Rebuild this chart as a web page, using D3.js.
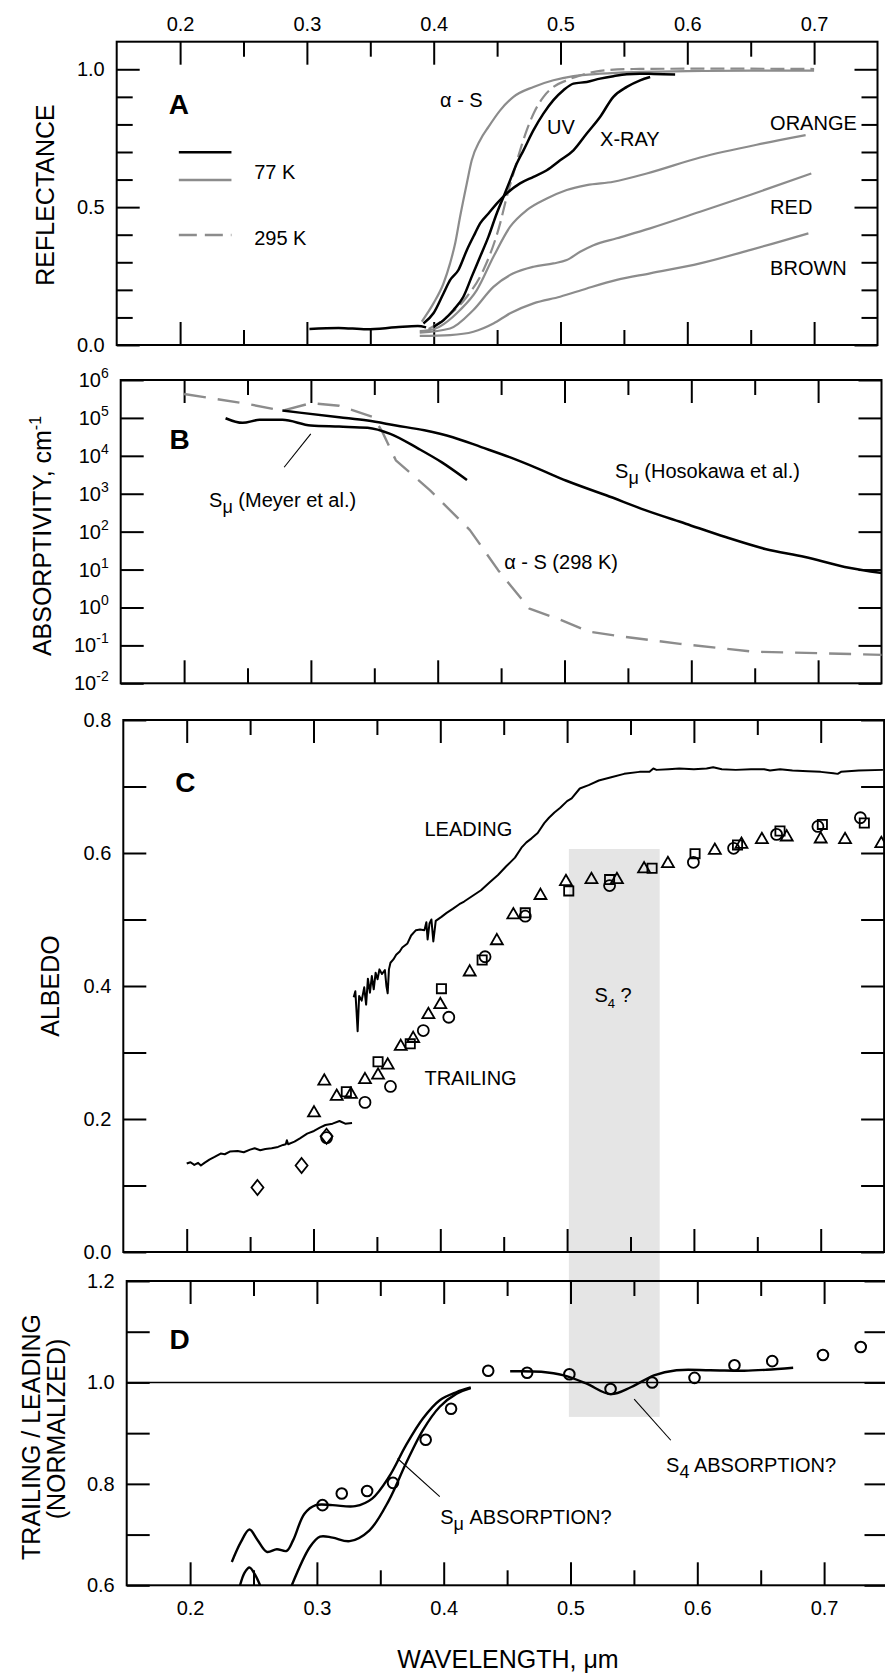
<!DOCTYPE html>
<html>
<head>
<meta charset="utf-8">
<script src="https://cdn.jsdelivr.net/npm/d3@7"></script>
<style>
  body { margin: 0; background: #fff; }
</style>
</head>
<body>
<div id="chart"></div>
<script>
const W = 885, H = 1673;
const FONT = "'Liberation Sans', Arial, Helvetica, sans-serif";
const GRAY = "#8c8c8c";

// ---- data: wavelength (um) vs value ----
const wlMajor = [0.2, 0.3, 0.4, 0.5, 0.6, 0.7];
const wlMinor = [0.25, 0.35, 0.45, 0.55, 0.65];

// A: reflectance
const reflDark = [[0.302,0.058],[0.325,0.062],[0.347,0.057],[0.370,0.064],[0.3875,0.069],[0.394,0.064]];
const reflXray = [[0.3919,0.078],[0.3998,0.115],[0.4077,0.187],[0.4129,0.235],[0.4195,0.272],[0.4261,0.344],[0.4326,0.405],[0.4366,0.441],[0.4432,0.477],[0.4497,0.513],[0.4576,0.550],[0.4681,0.586],[0.4787,0.610],[0.4892,0.634],[0.4997,0.670],[0.5102,0.706],[0.5207,0.767],[0.5312,0.827],[0.5417,0.900],[0.5523,0.936],[0.5628,0.960],[0.5707,0.972]];
const reflUV = [[0.3998,0.066],[0.4077,0.090],[0.4156,0.127],[0.4234,0.175],[0.4300,0.248],[0.4366,0.320],[0.4432,0.393],[0.4497,0.477],[0.4550,0.537],[0.4603,0.598],[0.4655,0.658],[0.4708,0.706],[0.4787,0.779],[0.4865,0.839],[0.4944,0.888],[0.5023,0.924],[0.5102,0.948],[0.5207,0.954],[0.5312,0.966],[0.5417,0.975],[0.5523,0.982],[0.5628,0.984],[0.5733,0.983],[0.5904,0.981]];
const reflAlphaS = [[0.3906,0.085],[0.3998,0.151],[0.4077,0.223],[0.4129,0.296],[0.4169,0.368],[0.4208,0.465],[0.4261,0.586],[0.4300,0.670],[0.4366,0.743],[0.4432,0.791],[0.4524,0.851],[0.4629,0.900],[0.4787,0.936],[0.4944,0.960],[0.5102,0.975],[0.5312,0.984],[0.5575,0.990],[0.60,0.993],[0.65,0.995],[0.70,0.995]];
const refl295 = [[0.3960,0.058],[0.4100,0.100],[0.4261,0.175],[0.4392,0.272],[0.4524,0.441],[0.4576,0.537],[0.4629,0.622],[0.4682,0.707],[0.4734,0.779],[0.4787,0.839],[0.4866,0.900],[0.4944,0.936],[0.5049,0.960],[0.5155,0.978],[0.5312,0.994],[0.5575,1.001],[0.60,1.002],[0.65,1.002],[0.70,1.001]];
const reflOrange = [[0.389,0.050],[0.3998,0.057],[0.4208,0.127],[0.4340,0.199],[0.4471,0.320],[0.4603,0.429],[0.4734,0.489],[0.4892,0.531],[0.5049,0.562],[0.5207,0.580],[0.5417,0.592],[0.5680,0.622],[0.6101,0.680],[0.6598,0.731],[0.6933,0.761]];
const reflRed = [[0.389,0.045],[0.4129,0.060],[0.4313,0.127],[0.4471,0.211],[0.4629,0.260],[0.4787,0.284],[0.4944,0.296],[0.5049,0.308],[0.5155,0.338],[0.5260,0.362],[0.5444,0.387],[0.5707,0.423],[0.6101,0.483],[0.65,0.545],[0.6978,0.622]];
const reflBrown = [[0.389,0.033],[0.4129,0.036],[0.4313,0.048],[0.4471,0.078],[0.4603,0.115],[0.4787,0.151],[0.4997,0.175],[0.5207,0.205],[0.5444,0.236],[0.5707,0.260],[0.6101,0.296],[0.65,0.345],[0.6955,0.405]];

// B: absorptivity, cm^-1
const absAlphaS = [[0.2,4.27e5],[0.25,2.34e5],[0.2775,1.55e5],[0.30,2.45e5],[0.3223,2.09e5],[0.3492,1.05e5],[0.356,4.5e4],[0.367,7.6e3],[0.394,1.23e3],[0.4254,110],[0.4478,9.5],[0.4724,0.93],[0.497,0.47],[0.5194,0.23],[0.5463,0.17],[0.5911,0.11],[0.6494,0.068],[0.7031,0.062],[0.7524,0.056]];
const absHosokawa = [[0.2775,1.56e5],[0.3223,1.04e5],[0.3447,8.5e4],[0.3671,6.3e4],[0.3895,4.7e4],[0.4119,3.1e4],[0.4343,1.7e4],[0.4567,9.2e3],[0.4791,4.6e3],[0.5015,2.2e3],[0.5329,910],[0.5642,364],[0.5956,162],[0.627,72],[0.6583,35],[0.6897,21.5],[0.721,11.7],[0.7524,7.9]];
const absMeyer = [[0.2327,9.8e4],[0.2461,7.4e4],[0.2596,8.9e4],[0.2775,8.9e4],[0.2999,6.3e4],[0.3223,5.9e4],[0.3447,5.5e4],[0.3626,3.8e4],[0.385,1.53e4],[0.403,6.8e3],[0.4231,2.3e3]];
const bTicks = [1e6, 1e5, 1e4, 1e3, 1e2, 1e1, 1e0, 1e-1, 1e-2];
const bTickExp = ["6", "5", "4", "3", "2", "1", "0", "-1", "-2"];

// C: albedo
const albLeading = [[0.3317,0.383],[0.3330,0.392],[0.3340,0.360],[0.3348,0.332],[0.3360,0.385],[0.3380,0.378],[0.3400,0.398],[0.3415,0.372],[0.3429,0.411],[0.3445,0.390],[0.3460,0.415],[0.3475,0.395],[0.3490,0.420],[0.3505,0.410],[0.3520,0.425],[0.3540,0.418],[0.3563,0.424],[0.3575,0.400],[0.3585,0.389],[0.3595,0.425],[0.3607,0.435],[0.3630,0.440],[0.3652,0.447],[0.3680,0.452],[0.3700,0.458],[0.3741,0.464],[0.3770,0.476],[0.3808,0.484],[0.3840,0.485],[0.3875,0.484],[0.3890,0.496],[0.3900,0.470],[0.3915,0.494],[0.3930,0.500],[0.3945,0.467],[0.3964,0.498],[0.4009,0.504],[0.4050,0.510],[0.4098,0.516],[0.4150,0.523],[0.4188,0.527],[0.4250,0.535],[0.4321,0.544],[0.4390,0.556],[0.4455,0.567],[0.4520,0.580],[0.4589,0.593],[0.4640,0.608],[0.4679,0.616],[0.4720,0.622],[0.4768,0.630],[0.4820,0.645],[0.4857,0.653],[0.4900,0.661],[0.4946,0.668],[0.5000,0.678],[0.5036,0.682],[0.5100,0.697],[0.5170,0.702],[0.5250,0.709],[0.5348,0.714],[0.5450,0.719],[0.5571,0.722],[0.5650,0.722],[0.5680,0.727],[0.5705,0.725],[0.5800,0.726],[0.5884,0.727],[0.6000,0.726],[0.6100,0.727],[0.6152,0.729],[0.6220,0.726],[0.6330,0.725],[0.6450,0.726],[0.6554,0.726],[0.6600,0.724],[0.6680,0.726],[0.6777,0.724],[0.6900,0.723],[0.7000,0.722],[0.7100,0.720],[0.7134,0.719],[0.7160,0.722],[0.7300,0.724],[0.7491,0.725]];
const albUVLow = [[0.2,0.133],[0.2030,0.135],[0.2060,0.131],[0.2090,0.134],[0.2112,0.130],[0.2140,0.134],[0.2179,0.139],[0.2220,0.143],[0.2268,0.148],[0.2300,0.147],[0.2340,0.151],[0.2402,0.152],[0.2450,0.150],[0.2500,0.154],[0.2536,0.156],[0.2580,0.153],[0.2620,0.155],[0.2670,0.156],[0.2720,0.158],[0.2760,0.161],[0.2781,0.162],[0.2790,0.168],[0.2800,0.162],[0.2850,0.166],[0.2893,0.171],[0.2950,0.178],[0.3004,0.182],[0.3050,0.187],[0.3094,0.191],[0.3150,0.193],[0.3205,0.197],[0.3250,0.193],[0.3304,0.194]];
const albTriangles = [[0.3004,0.209],[0.3085,0.257],[0.3183,0.234],[0.3295,0.237],[0.3406,0.259],[0.3509,0.266],[0.3585,0.281],[0.3688,0.309],[0.3786,0.321],[0.3906,0.357],[0.4000,0.372],[0.4232,0.421],[0.4446,0.468],[0.4576,0.507],[0.4790,0.536],[0.4991,0.557],[0.5192,0.560],[0.5393,0.560],[0.5607,0.576],[0.5795,0.584],[0.6165,0.604],[0.6375,0.613],[0.6536,0.620],[0.6732,0.624],[0.7000,0.621],[0.7192,0.620],[0.7478,0.614]];
const albSquares = [[0.3259,0.241],[0.3509,0.286],[0.3763,0.313],[0.4009,0.396],[0.4330,0.439],[0.4670,0.510],[0.5013,0.543],[0.5335,0.560],[0.5670,0.577],[0.6009,0.599],[0.6344,0.612],[0.6679,0.633],[0.7013,0.643],[0.7344,0.645]];
const albCircles = [[0.3103,0.172],[0.3406,0.225],[0.3607,0.249],[0.3866,0.333],[0.4067,0.353],[0.4353,0.444],[0.4670,0.505],[0.5335,0.551],[0.5996,0.586],[0.6313,0.607],[0.6652,0.628],[0.6978,0.640],[0.7313,0.653]];
const albDiamonds = [[0.2558,0.097],[0.2906,0.130],[0.3103,0.174]];
const s4Band = [0.5014, 0.573];

// D: trailing / leading ratio
const ratioUpper = [[0.2329,0.646],[0.2400,0.685],[0.2468,0.710],[0.2530,0.690],[0.2605,0.666],[0.2684,0.671],[0.2762,0.668],[0.2813,0.689],[0.2902,0.741],[0.2991,0.758],[0.3124,0.758],[0.3302,0.756],[0.3436,0.771],[0.3569,0.814],[0.3702,0.876],[0.3836,0.929],[0.3969,0.965],[0.4102,0.981],[0.4213,0.990]];
const ratioLowerHump = [[0.2394,0.600],[0.2430,0.625],[0.2468,0.635],[0.2510,0.622],[0.2552,0.600]];
const ratioLower = [[0.2802,0.600],[0.2946,0.676],[0.3025,0.696],[0.3124,0.694],[0.3258,0.687],[0.3413,0.708],[0.3569,0.768],[0.3702,0.840],[0.3836,0.906],[0.3969,0.952],[0.4102,0.978],[0.4213,0.989]];
const ratioS4 = [[0.4524,1.022],[0.4769,1.021],[0.4947,1.014],[0.5124,0.998],[0.5316,0.977],[0.5480,0.991],[0.5658,1.014],[0.5836,1.024],[0.6102,1.024],[0.6369,1.023],[0.6547,1.025],[0.6756,1.029]];
const ratioCircles = [[0.3044,0.758],[0.3196,0.781],[0.3396,0.786],[0.3600,0.802],[0.3858,0.887],[0.4058,0.948],[0.4351,1.023],[0.4658,1.019],[0.4991,1.016],[0.5316,0.987],[0.5644,1.000],[0.5978,1.009],[0.6293,1.034],[0.6591,1.042],[0.6991,1.054],[0.7289,1.070]];

// ---- layout ----
const XSPAN = 760.8;
const panels = {
  A: { left: 116.7, top: 41.7, bottom: 345,   yDomain: [0, 1.1] },
  B: { left: 120.7, top: 380,  bottom: 683.3, yDomain: [1e-2, 1e6], log: true },
  C: { left: 123.3, top: 720,  bottom: 1252,  yDomain: [0, 0.8] },
  D: { left: 126.7, top: 1281, bottom: 1585.3, yDomain: [0.6, 1.2] }
};
for (const k in panels) {
  const p = panels[k];
  p.right = p.left + XSPAN;
  p.x = d3.scaleLinear([0.15, 0.75], [p.left, p.right]);
  p.y = (p.log ? d3.scaleLog() : d3.scaleLinear()).domain(p.yDomain).range([p.bottom, p.top]);
}

const svg = d3.select("#chart").append("svg")
    .attr("width", W).attr("height", H)
    .attr("font-family", FONT);

// shaded S4 band, from panel C down into panel D
svg.append("rect")
    .attr("x", panels.C.x(s4Band[0]))
    .attr("width", panels.C.x(s4Band[1]) - panels.C.x(s4Band[0]))
    .attr("y", panels.C.y(0.606))
    .attr("height", panels.D.y(0.932) - panels.C.y(0.606))
    .attr("fill", "#e5e5e5");

function styleAxis(g) {
  g.attr("font-family", null).attr("font-size", null);
  g.select(".domain").remove();
  g.selectAll("line").attr("stroke", "#000").attr("stroke-width", 2);
  g.selectAll("text").attr("font-size", 20).attr("fill", "#000");
}

function drawFrame(p, yMajor, yMinor, yFmt, opts) {
  const g = svg.append("g");
  const blank = () => "";
  // top / bottom wavelength ticks
  g.append("g").attr("transform", `translate(0,${p.top})`)
      .call(d3.axisTop(p.x).tickValues(wlMajor).tickSizeInner(-23).tickSizeOuter(0).tickPadding(11)
        .tickFormat(opts.topLabels ? d3.format(".1f") : blank)).call(styleAxis);
  g.append("g").attr("transform", `translate(0,${p.top})`)
      .call(d3.axisTop(p.x).tickValues(wlMinor).tickSizeInner(-15).tickSizeOuter(0).tickFormat(blank)).call(styleAxis);
  g.append("g").attr("transform", `translate(0,${p.bottom})`)
      .call(d3.axisBottom(p.x).tickValues(wlMajor).tickSizeInner(-23).tickSizeOuter(0).tickPadding(15.5)
        .tickFormat(opts.bottomLabels ? d3.format(".1f") : blank)).call(styleAxis);
  g.append("g").attr("transform", `translate(0,${p.bottom})`)
      .call(d3.axisBottom(p.x).tickValues(wlMinor).tickSizeInner(-15).tickSizeOuter(0).tickFormat(blank)).call(styleAxis);
  // left / right value ticks
  g.append("g").attr("transform", `translate(${p.left},0)`)
      .call(d3.axisLeft(p.y).tickValues(yMajor).tickSizeInner(-23).tickSizeOuter(0).tickPadding(12).tickFormat(yFmt)).call(styleAxis);
  g.append("g").attr("transform", `translate(${p.right},0)`)
      .call(d3.axisRight(p.y).tickValues(yMajor).tickSizeInner(-23).tickSizeOuter(0).tickFormat(blank)).call(styleAxis);
  if (yMinor.length) {
    g.append("g").attr("transform", `translate(${p.left},0)`)
        .call(d3.axisLeft(p.y).tickValues(yMinor).tickSizeInner(-16).tickSizeOuter(0).tickFormat(blank)).call(styleAxis);
    g.append("g").attr("transform", `translate(${p.right},0)`)
        .call(d3.axisRight(p.y).tickValues(yMinor).tickSizeInner(-16).tickSizeOuter(0).tickFormat(blank)).call(styleAxis);
  }
  g.append("rect")
      .attr("x", p.left).attr("y", p.top)
      .attr("width", p.right - p.left).attr("height", p.bottom - p.top)
      .attr("fill", "none").attr("stroke", "#000").attr("stroke-width", 2);
}

function clipFor(id, p) {
  svg.append("clipPath").attr("id", id).append("rect")
      .attr("x", p.left).attr("y", p.top).attr("width", p.right - p.left).attr("height", p.bottom - p.top);
  return svg.append("g").attr("clip-path", `url(#${id})`);
}

function curve(g, p, data, stroke, width, dash, curveType) {
  const line = d3.line().x(d => p.x(d[0])).y(d => p.y(d[1])).curve(curveType || d3.curveMonotoneX);
  g.append("path").datum(data)
      .attr("d", line)
      .attr("fill", "none").attr("stroke", stroke).attr("stroke-width", width)
      .attr("stroke-linejoin", "round")
      .attr("stroke-dasharray", dash || null);
}

function label(p, wl, v, parts, opts = {}) {
  const t = svg.append("text")
      .attr("x", p.x(wl)).attr("y", p.y(v))
      .attr("font-size", opts.size || 20)
      .attr("font-weight", opts.bold ? "bold" : null)
      .attr("text-anchor", opts.anchor || "start")
      .attr("fill", "#000");
  let shift = 0;
  for (const part of parts) {
    const s = t.append("tspan").text(part.t);
    const want = part.sub ? 6 : 0;
    if (want !== shift) { s.attr("dy", want - shift); shift = want; }
    if (part.sub) s.attr("font-size", part.subSize || 15);
  }
  return t;
}

function pointer(p, pts) {
  svg.append("path").datum(pts)
      .attr("d", d3.line().x(d => p.x(d[0])).y(d => p.y(d[1])))
      .attr("stroke", "#000").attr("stroke-width", 1.1).attr("fill", "none");
}

// ===== Panel A =====
{
  const p = panels.A;
  drawFrame(p, [0, 0.5, 1.0], [0.1, 0.2, 0.3, 0.4, 0.6, 0.7, 0.8, 0.9], d3.format(".1f"), { topLabels: true });
  const g = clipFor("clipA", p);
  curve(g, p, reflBrown, GRAY, 2.2);
  curve(g, p, reflRed, GRAY, 2.2);
  curve(g, p, reflOrange, GRAY, 2.2);
  curve(g, p, reflAlphaS, GRAY, 2.2);
  curve(g, p, refl295, GRAY, 2.2, "14,6");
  curve(g, p, reflDark, "#000", 2.5);
  curve(g, p, reflXray, "#000", 2.5);
  curve(g, p, reflUV, "#000", 2.5);

  label(p, 0.199, 0.839, [{ t: "A" }], { bold: true, size: 28, anchor: "middle" });
  label(p, 0.405, 0.862, [{ t: "α - S" }]);
  label(p, 0.4894, 0.764, [{ t: "UV" }]);
  label(p, 0.5312, 0.721, [{ t: "X-RAY" }]);
  label(p, 0.6653, 0.779, [{ t: "ORANGE" }]);
  label(p, 0.6653, 0.475, [{ t: "RED" }]);
  label(p, 0.6653, 0.254, [{ t: "BROWN" }]);

  // legend
  const legendLines = [
    { r: 0.699, stroke: "#000", dash: null },
    { r: 0.598, stroke: GRAY, dash: null },
    { r: 0.399, stroke: GRAY, dash: "18,8" }
  ];
  legendLines.forEach(l => {
    svg.append("line")
        .attr("x1", p.x(0.199)).attr("x2", p.x(0.2405))
        .attr("y1", p.y(l.r)).attr("y2", p.y(l.r))
        .attr("stroke", l.stroke).attr("stroke-width", 2.5)
        .attr("stroke-dasharray", l.dash);
  });
  label(p, 0.2584, 0.601, [{ t: "77 K" }]);
  label(p, 0.2584, 0.362, [{ t: "295 K" }]);
}

// ===== Panel B =====
{
  const p = panels.B;
  drawFrame(p, bTicks, [], () => "", {});
  // superscript tick labels
  bTicks.forEach((v, i) => {
    const t = svg.append("text")
        .attr("x", p.left - 12).attr("y", p.y(v) + 7)
        .attr("text-anchor", "end").attr("font-size", 20).attr("fill", "#000");
    t.append("tspan").text("10");
    t.append("tspan").text(bTickExp[i]).attr("font-size", 14).attr("dy", -9);
  });
  const g = clipFor("clipB", p);
  curve(g, p, absAlphaS, GRAY, 2.4, "22,12", d3.curveLinear);
  curve(g, p, absMeyer, "#000", 2.5);
  curve(g, p, absHosokawa, "#000", 2.5);
  pointer(p, [[0.2999, 3.8e4], [0.2789, 5.0e3]]);

  label(p, 0.1965, 1.5e4, [{ t: "B" }], { bold: true, size: 28, anchor: "middle" });
  label(p, 0.2197, 446, [{ t: "S" }, { t: "μ", sub: true, subSize: 18 }, { t: " (Meyer et al.)" }]);
  label(p, 0.5399, 2594, [{ t: "S" }, { t: "μ", sub: true, subSize: 18 }, { t: " (Hosokawa et al.)" }]);
  label(p, 0.4524, 10.3, [{ t: "α - S (298 K)" }]);
}

// ===== Panel C =====
{
  const p = panels.C;
  const cTicks = [0, 0.1, 0.2, 0.3, 0.4, 0.5, 0.6, 0.7, 0.8];
  const cLabeled = new Set([0, 0.2, 0.4, 0.6, 0.8]);
  drawFrame(p, cTicks, [], d => cLabeled.has(d) ? d3.format(".1f")(d) : "", {});
  const g = clipFor("clipC", p);
  curve(g, p, albLeading, "#000", 2, null, d3.curveLinear);
  curve(g, p, albUVLow, "#000", 2, null, d3.curveLinear);

  const mk = (data, path) => {
    g.append("g").selectAll("path").data(data).join("path")
        .attr("transform", d => `translate(${p.x(d[0])},${p.y(d[1])})`)
        .attr("d", path)
        .attr("fill", "none").attr("stroke", "#000").attr("stroke-width", 1.8);
  };
  mk(albTriangles, d3.symbol(d3.symbolTriangle, 62)());
  mk(albSquares, d3.symbol(d3.symbolSquare, 85)());
  mk(albCircles, d3.symbol(d3.symbolCircle, 95)());
  mk(albDiamonds, "M0,-7.5L6,0L0,7.5L-6,0Z");

  label(p, 0.199, 0.691, [{ t: "C" }], { bold: true, size: 28, anchor: "middle" });
  label(p, 0.3875, 0.6256, [{ t: "LEADING" }]);
  label(p, 0.3875, 0.2504, [{ t: "TRAILING" }]);
  label(p, 0.5216, 0.376, [{ t: "S" }, { t: "4", sub: true, subSize: 13 }, { t: " ?" }]);
}

// ===== Panel D =====
{
  const p = panels.D;
  const dTicks = [0.6, 0.7, 0.8, 0.9, 1.0, 1.1, 1.2];
  const dLabeled = new Set([0.6, 0.8, 1.0, 1.2]);
  drawFrame(p, dTicks, [], d => dLabeled.has(d) ? d3.format(".1f")(d) : "", { bottomLabels: true });
  svg.append("line")
      .attr("x1", p.left).attr("x2", p.right)
      .attr("y1", p.y(1.0)).attr("y2", p.y(1.0))
      .attr("stroke", "#000").attr("stroke-width", 1.6);
  const g = clipFor("clipD", p);
  curve(g, p, ratioUpper, "#000", 2.4, null, d3.curveCatmullRom);
  curve(g, p, ratioLowerHump, "#000", 2.4, null, d3.curveCatmullRom);
  curve(g, p, ratioLower, "#000", 2.4, null, d3.curveCatmullRom);
  curve(g, p, ratioS4, "#000", 2.4, null, d3.curveCatmullRom);
  g.append("g").selectAll("circle").data(ratioCircles).join("circle")
      .attr("cx", d => p.x(d[0])).attr("cy", d => p.y(d[1])).attr("r", 5.3)
      .attr("fill", "none").attr("stroke", "#000").attr("stroke-width", 2);
  pointer(p, [[0.5502, 0.967], [0.5791, 0.886]]);
  pointer(p, [[0.3636, 0.850], [0.3969, 0.775]]);

  label(p, 0.1917, 1.0665, [{ t: "D" }], { bold: true, size: 28, anchor: "middle" });
  label(p, 0.5754, 0.8234, [{ t: "S" }, { t: "4", sub: true, subSize: 18 }, { t: " ABSORPTION?" }]);
  label(p, 0.3972, 0.7209, [{ t: "S" }, { t: "μ", sub: true, subSize: 18 }, { t: " ABSORPTION?" }]);
}

// ===== axis titles =====
function vTitle(x, y, parts) {
  const t = svg.append("text")
      .attr("transform", `translate(${x},${y}) rotate(-90)`)
      .attr("text-anchor", "middle").attr("dy", "0.36em")
      .attr("font-size", 25).attr("fill", "#000");
  parts.forEach(pt => {
    const s = t.append("tspan").text(pt.t);
    if (pt.sup) s.attr("font-size", 16).attr("dy", -10);
  });
}
vTitle(45, 195, [{ t: "REFLECTANCE" }]);
vTitle(42, 536, [{ t: "ABSORPTIVITY, cm" }, { t: "-1", sup: true }]);
vTitle(50, 986, [{ t: "ALBEDO" }]);
vTitle(31, 1437, [{ t: "TRAILING / LEADING" }]);
vTitle(56, 1429, [{ t: "(NORMALIZED)" }]);

svg.append("text")
    .attr("x", 508).attr("y", 1668)
    .attr("text-anchor", "middle").attr("font-size", 25).attr("fill", "#000")
    .text("WAVELENGTH, μm");
</script>
</body>
</html>
